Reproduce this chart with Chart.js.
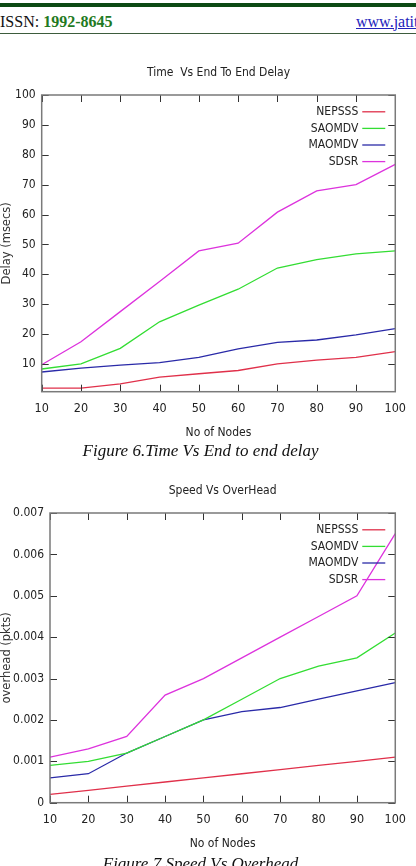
<!DOCTYPE html>
<html>
<head>
<meta charset="utf-8">
<script src="https://cdn.jsdelivr.net/npm/chart.js@4.4.0/dist/chart.umd.min.js"></script>
<style>
  body { margin: 0; width: 416px; height: 866px; overflow: hidden; background: #fff; position: relative; }
  .topbar { position: absolute; left: 0; top: 3px; width: 416px; height: 4px; background: #0d4a14; }
  .rule { position: absolute; left: 0; top: 33px; width: 416px; height: 1px; background: #3d5c3d; }
  .hdr { position: absolute; top: 13.5px; font: 16px/1 'Liberation Serif', serif; color: #111; white-space: nowrap; }
  .hdr b { color: #1f7a23; }
  .hdr a { color: #2222bb; text-decoration: underline; }
  .cap { position: absolute; left: 0; width: 401px; text-align: center; font: italic 17px/1 'Liberation Serif', serif; color: #111; white-space: nowrap; }
  canvas { position: absolute; left: 0; }
</style>
</head>
<body>
<div class="topbar"></div>
<div class="hdr" style="left:0">ISSN: <b>1992-8645</b></div>
<div class="hdr" style="left:356px"><a>www.jatit.org</a></div>
<div class="rule"></div>

<canvas id="delayChart" width="416" height="385" style="top:60px"></canvas>
<div class="cap" style="top:442px">Figure 6.Time Vs End to end delay</div>

<canvas id="overheadChart" width="416" height="378" style="top:478px"></canvas>
<div class="cap" style="top:855px">Figure 7.Speed Vs Overhead</div>

<script>
const nodes = [10, 20, 30, 40, 50, 60, 70, 80, 90, 100];
const seriesNames = ["NEPSSS", "SAOMDV", "MAOMDV", "SDSR"];
const seriesColors = ["#e0304a", "#33dd33", "#2a2aa8", "#dd33dd"];

// Figure 6 - delay (msecs)
const delayNEPSSS = [1.9, 1.9, 3.3, 5.6, 6.7, 7.8, 10, 11.3, 12.2, 14.1];
const delaySAOMDV = [8.3, 10, 15.2, 24.1, 29.7, 35, 42.1, 44.9, 46.8, 47.8];
const delayMAOMDV = [7.3, 8.6, 9.6, 10.4, 12.2, 15, 17.2, 18, 19.7, 21.8];
const delaySDSR = [9.7, 17.4, 27.5, 37.6, 47.8, 50.4, 60.8, 67.9, 70, 76.8];

// Figure 7 - overhead (pkts)
const ohNEPSSS = [0.0002, 0.0003, 0.0004, 0.0005, 0.0006, 0.0007, 0.0008, 0.0009, 0.001, 0.0011];
const ohSAOMDV = [0.0009, 0.001, 0.0012, 0.0016, 0.002, 0.0025, 0.003, 0.0033, 0.0035, 0.0041];
const ohMAOMDV = [0.0006, 0.0007, 0.0012, 0.0016, 0.002, 0.0022, 0.0023, 0.0025, 0.0027, 0.0029];
const ohSDSR = [0.0011, 0.0013, 0.0016, 0.0026, 0.003, 0.0035, 0.004, 0.0045, 0.005, 0.0065];

const xTicks = [10, 20, 30, 40, 50, 60, 70, 80, 90, 100];
const delayTicks = [10, 20, 30, 40, 50, 60, 70, 80, 90, 100];
const overheadTicks = [0, 0.001, 0.002, 0.003, 0.004, 0.005, 0.006, 0.007];

const narrow = "'DejaVu Sans Condensed', sans-serif";

// gnuplot style box, inward ticks and "text ---" legend
const gnuFrame = {
  id: "gnuFrame",
  afterDatasetsDraw(chart) {
    const { ctx, chartArea: a, scales: { x, y } } = chart;
    ctx.save();
    ctx.strokeStyle = "#333";
    ctx.lineWidth = 1;
    ctx.beginPath();
    x.ticks.forEach(t => {
      const px = Math.round(x.getPixelForValue(t.value)) + 0.5;
      ctx.moveTo(px, a.bottom); ctx.lineTo(px, a.bottom - 7);
      ctx.moveTo(px, a.top); ctx.lineTo(px, a.top + 7);
    });
    y.ticks.forEach(t => {
      const py = Math.round(y.getPixelForValue(t.value)) + 0.5;
      ctx.moveTo(a.left, py); ctx.lineTo(a.left + 7, py);
      ctx.moveTo(a.right, py); ctx.lineTo(a.right - 7, py);
    });
    ctx.stroke();
    ctx.strokeStyle = "#7a7a7a";
    ctx.lineWidth = 1.5;
    ctx.strokeRect(a.left, a.top, a.right - a.left, a.bottom - a.top);

    ctx.font = "12px " + narrow;
    ctx.textAlign = "right";
    ctx.textBaseline = "middle";
    chart.data.datasets.forEach((ds, i) => {
      const ly = a.top + 16.8 + i * 16.6;
      ctx.fillStyle = "#222";
      ctx.fillText(ds.label, a.right - 37, ly);
      ctx.strokeStyle = ds.borderColor;
      ctx.lineWidth = 1.3;
      ctx.beginPath();
      ctx.moveTo(a.right - 33, ly);
      ctx.lineTo(a.right - 10, ly);
      ctx.stroke();
    });
    ctx.restore();
  }
};

function makeChart(id, title, yTitle, series, yMin, yMax, yTicks, yFmt, yWidth, padRight) {
  const datasets = series.map((vals, i) => ({
    label: seriesNames[i],
    data: nodes.map((n, j) => ({ x: n, y: vals[j] })),
    borderColor: seriesColors[i],
    borderWidth: 1.3,
    pointRadius: 0,
    tension: 0
  }));
  return new Chart(document.getElementById(id), {
    type: "line",
    data: { datasets },
    plugins: [gnuFrame],
    options: {
      responsive: false,
      animation: false,
      devicePixelRatio: 1,
      layout: { padding: { left: 0, right: padRight, top: 0, bottom: 0 } },
      plugins: {
        legend: { display: false },
        tooltip: { enabled: false },
        title: {
          display: true,
          text: title,
          fullSize: false,
          color: "#222",
          font: { family: narrow, size: 12, weight: "normal" },
          padding: { top: 5.6, bottom: 15 }
        }
      },
      scales: {
        x: {
          type: "linear",
          min: 10,
          max: 100,
          afterBuildTicks: s => { s.ticks = xTicks.map(v => ({ value: v })); },
          afterFit: s => { s.height = 53.3; },
          grid: { display: false, drawTicks: false },
          border: { display: false },
          ticks: { color: "#222", padding: 10, font: { family: narrow, size: 12.5 } },
          title: {
            display: true,
            text: "No of Nodes",
            color: "#222",
            font: { family: narrow, size: 12 },
            padding: { top: 0, bottom: 4.8 }
          }
        },
        y: {
          min: yMin,
          max: yMax,
          afterBuildTicks: s => { s.ticks = yTicks.map(v => ({ value: v })); },
          afterFit: s => { s.width = yWidth; },
          grid: { display: false, drawTicks: false },
          border: { display: false },
          ticks: { color: "#222", padding: 6, font: { family: narrow, size: 12 }, callback: yFmt },
          title: {
            display: true,
            text: yTitle,
            color: "#333",
            font: { family: "'DejaVu Sans', sans-serif", size: 11.5 },
            padding: { top: 0.5, bottom: 0 }
          }
        }
      }
    }
  });
}

makeChart("delayChart", "Time  Vs End To End Delay", "Delay (msecs)",
  [delayNEPSSS, delaySAOMDV, delayMAOMDV, delaySDSR],
  0.7, 100, delayTicks, v => String(v), 41.7, 13.3);

makeChart("overheadChart", "Speed Vs OverHead", "overhead (pkts)",
  [ohNEPSSS, ohSAOMDV, ohMAOMDV, ohSDSR],
  0, 0.007, overheadTicks, v => (v === 0 ? "0" : v.toFixed(3)), 50, 14.3);
</script>
</body>
</html>
